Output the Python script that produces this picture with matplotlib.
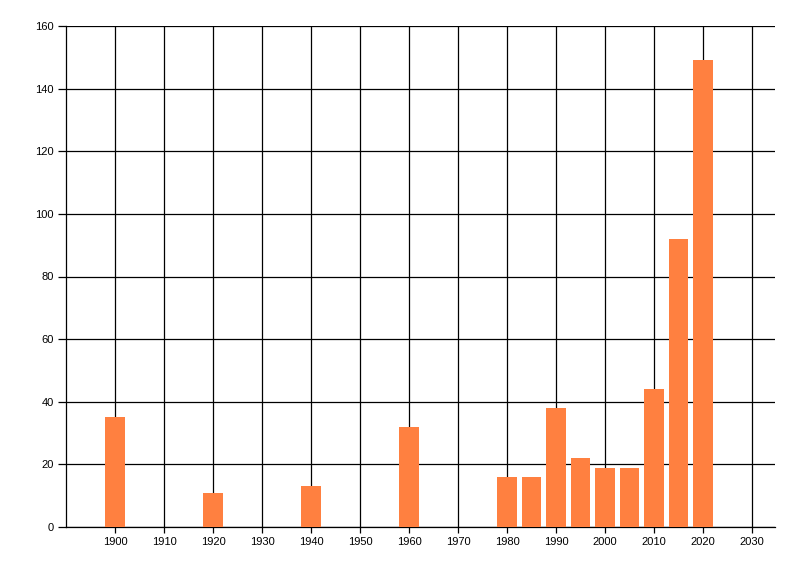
import matplotlib
matplotlib.use('Agg')
import matplotlib.pyplot as plt

years = [1900, 1920, 1940, 1960, 1980, 1985, 1990, 1995, 2000, 2005, 2010, 2015, 2020]
counts = [35, 11, 13, 32, 16, 16, 38, 22, 19, 19, 44, 92, 149]
x_ticks = list(range(1900, 2031, 10))
y_ticks = list(range(0, 161, 20))

plt.rcParams['font.family'] = ['Liberation Sans', 'DejaVu Sans']

fig = plt.figure(figsize=(8, 5.76), dpi=100)
ax = fig.add_axes([66 / 800, 1 - 527 / 576, (775 - 66) / 800, (527 - 26) / 576])

ax.bar(years, counts, width=3.9, color='#ff8040', zorder=3)

ax.set_xlim(1890, 2034.7)
ax.set_ylim(0, 160)
ax.set_xticks(x_ticks)
ax.set_yticks(y_ticks)
ax.grid(True, color='black', linewidth=0.9, zorder=1)
ax.set_axisbelow(True)

for side in ['top', 'right']:
    ax.spines[side].set_visible(False)
for side in ['left', 'bottom']:
    ax.spines[side].set_linewidth(0.9)

ax.tick_params(axis='y', length=6, width=0.9, pad=3, labelsize=8)
ax.tick_params(axis='x', length=4, width=0.9, pad=3, labelsize=8)

fig.savefig('out.png', dpi=100)
